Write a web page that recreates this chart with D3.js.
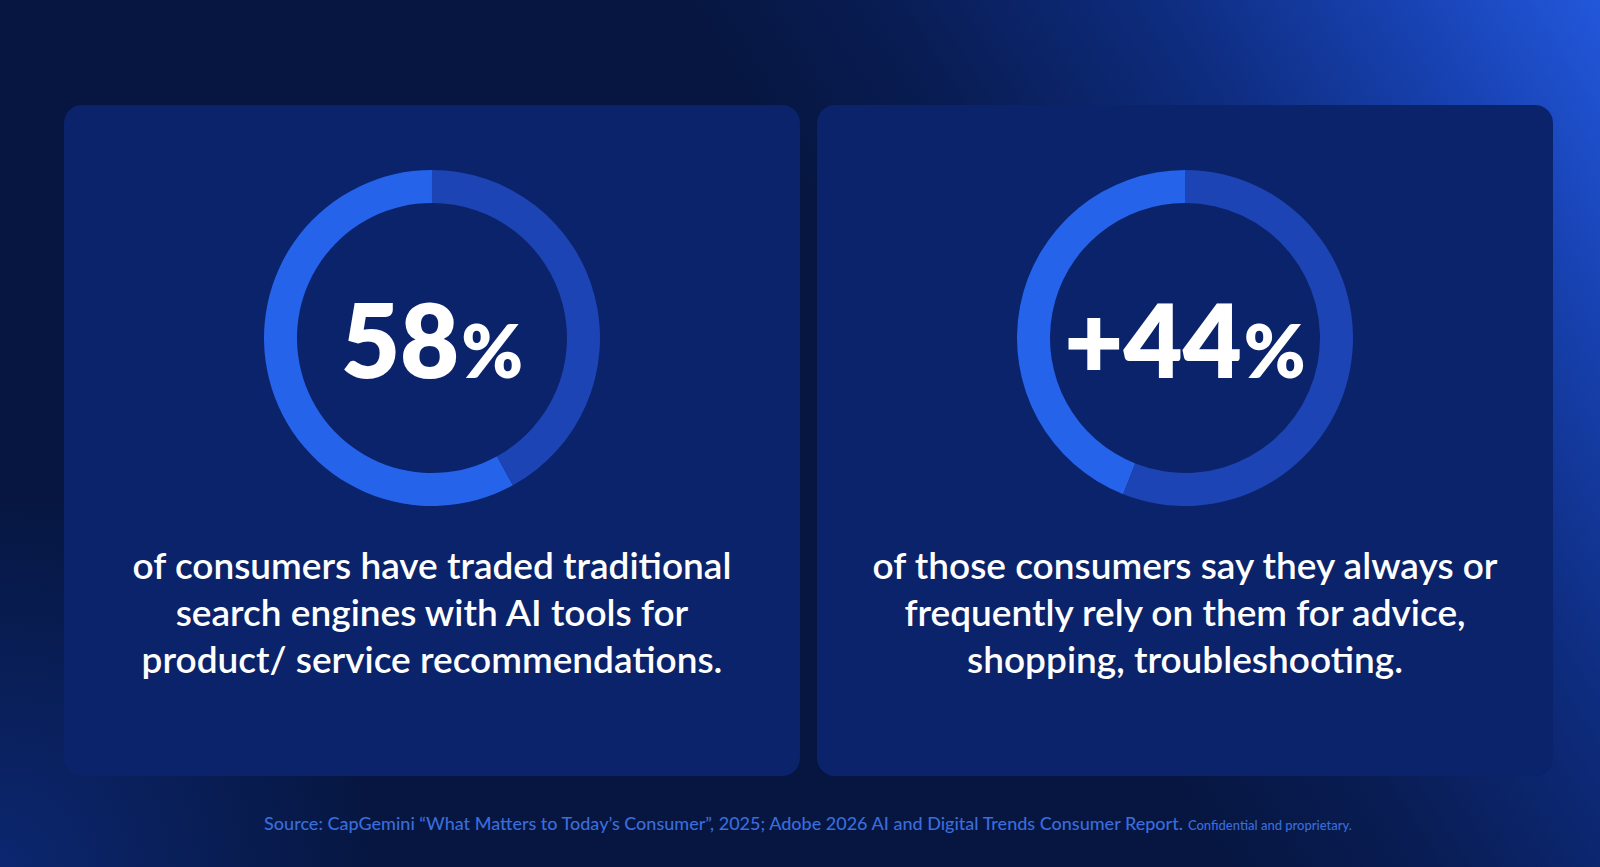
<!DOCTYPE html>
<html>
<head>
<meta charset="utf-8">
<script src="https://cdn.jsdelivr.net/npm/d3@7"></script>
<style>
  html, body { margin: 0; padding: 0; background: #07163d; }
  svg { display: block; }
</style>
</head>
<body>
<div id="chart"></div>
<script>
// chart data
const statValues = [58, 44];
const statLabels = ["58", "+44"];
const statDescriptions = [
    ["of consumers have traded traditional", "search engines with AI tools for", "product/ service recommendations."],
    ["of those consumers say they always or", "frequently rely on them for advice,", "shopping, troubleshooting."]
];
const sourceText = "Source: CapGemini \u201cWhat Matters to Today\u2019s Consumer\u201d, 2025; Adobe 2026 AI and Digital Trends Consumer Report.";
const noteText = "Confidential and proprietary.";

const width = 1600, height = 867;

const svg = d3.select("#chart").append("svg")
    .attr("width", width)
    .attr("height", height);

const defs = svg.append("defs");

// diagonal background, dark on the left and bright blue in the top right
const bgGrad = defs.append("linearGradient")
    .attr("id", "bg-diag")
    .attr("gradientUnits", "userSpaceOnUse")
    .attr("x1", 800).attr("y1", 200).attr("x2", 1600).attr("y2", -300);
[[0, "#061640"], [0.2, "#091d55"], [0.43, "#0e2c7e"], [0.66, "#1843b4"], [0.82, "#2256d8"], [1, "#2a62ea"]]
    .forEach(s => bgGrad.append("stop").attr("offset", s[0]).attr("stop-color", s[1]));

const cornerGlow = defs.append("radialGradient")
    .attr("id", "bg-corner")
    .attr("gradientUnits", "userSpaceOnUse")
    .attr("cx", 0).attr("cy", 867).attr("r", 380);
cornerGlow.append("stop").attr("offset", "0").attr("stop-color", "#0d2a78").attr("stop-opacity", 0.85);
cornerGlow.append("stop").attr("offset", "1").attr("stop-color", "#0d2a78").attr("stop-opacity", 0);

svg.append("rect").attr("width", width).attr("height", height).attr("fill", "url(#bg-diag)");
svg.append("rect").attr("width", width).attr("height", height).attr("fill", "url(#bg-corner)");

// panel layout
const panelX = d3.scaleBand()
    .domain(d3.range(statValues.length))
    .range([64, 1553])
    .paddingInner(0.0226);
const panelTop = 105, panelBottom = 776;
const donutCy = 338;
const outerR = 168, innerR = 135;

const pie = d3.pie()
    .sort(null)
    .startAngle(0)
    .endAngle(-2 * Math.PI);

const arc = d3.arc()
    .innerRadius(innerR)
    .outerRadius(outerR);

const panels = svg.selectAll("g.panel")
    .data(statValues)
    .join("g")
    .attr("class", "panel")
    .attr("transform", (d, i) => `translate(${panelX(i)},0)`);

panels.append("rect")
    .attr("y", panelTop)
    .attr("width", panelX.bandwidth())
    .attr("height", panelBottom - panelTop)
    .attr("rx", 18)
    .attr("fill", "#0b236a");

const donuts = panels.append("g")
    .attr("transform", `translate(${panelX.bandwidth() / 2},${donutCy})`);

donuts.selectAll("path")
    .data(d => pie([d, 100 - d]))
    .join("path")
    .attr("d", arc)
    .attr("fill", (d, i) => i === 0 ? "#2563eb" : "#1d44b5");

// big number with a smaller percent sign
const bigText = donuts.append("text")
    .attr("y", 40)
    .attr("text-anchor", "middle")
    .attr("fill", "#ffffff")
    .style("font-family", "Lato, 'Noto Sans', sans-serif")
    .style("font-weight", 800);
bigText.append("tspan")
    .attr("font-size", 102)
    .text((d, i) => statLabels[i]);
bigText.append("tspan")
    .attr("font-size", 74)
    .attr("dx", 2)
    .text("%");

// description lines
panels.append("text")
    .attr("text-anchor", "middle")
    .attr("fill", "#ffffff")
    .style("font-family", "Lato, 'Noto Sans', sans-serif")
    .style("font-weight", 600)
    .style("font-size", "37px")
    .selectAll("tspan")
    .data((d, i) => statDescriptions[i])
    .join("tspan")
    .attr("x", panelX.bandwidth() / 2)
    .attr("y", (d, j) => 579 + j * 47)
    .text(d => d);

// footer
const footer = svg.append("text")
    .attr("x", width / 2 + 8)
    .attr("y", 830)
    .attr("text-anchor", "middle")
    .attr("fill", "#3a6cdc")
    .style("font-family", "Lato, 'Noto Sans', sans-serif")
    .style("font-weight", 500);
footer.append("tspan").style("font-size", "18px").text(sourceText);
footer.append("tspan").style("font-size", "13px").attr("dx", 5).text(noteText);
</script>
</body>
</html>
